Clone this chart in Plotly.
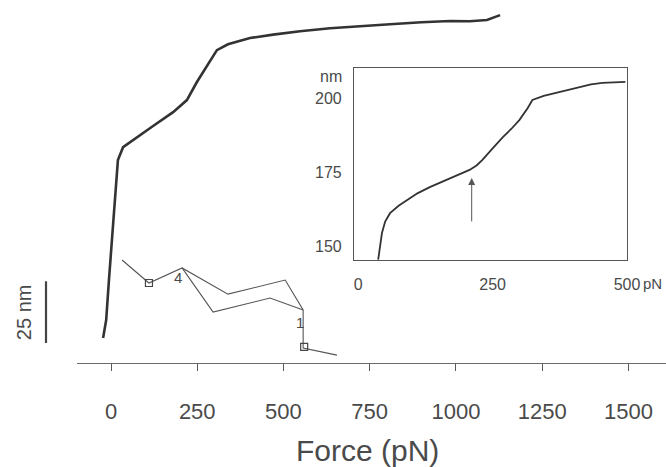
import plotly.graph_objects as go

# ---------------- data ----------------
# main extension curve (force pN, extension nm, arbitrary offset)
main_force = [-23, -14, -6, 3, 12, 20, 35, 75, 122, 180, 220, 249, 287, 307, 339, 403,
              470, 548, 635, 720, 809, 900, 983, 1040, 1090, 1128]
main_ext = [10.1, 17.4, 33.6, 49.8, 66.0, 82.2, 87.4, 91.5, 96.0, 101.6, 106.5, 113.8,
            121.9, 126.7, 129.1, 131.6, 133.0, 134.4, 135.6, 136.5, 137.2, 138.0, 138.5,
            138.4, 138.9, 140.9]

# small two-branch polyline drawn inside the main panel
poly_upper_x = [32, 110, 206, 339, 505, 557, 557, 655]
poly_upper_y = [41.7, 32.4, 38.5, 27.9, 33.6, 21.5, 6.1, 3.2]
poly_lower_x = [206, 296, 461, 557]
poly_lower_y = [38.5, 20.6, 26.3, 21.5]
poly_marker_x = [110, 560]
poly_marker_y = [32.4, 6.5]
poly_labels = ["4", "1"]
poly_label_x = [195, 548]
poly_label_y = [34.5, 16.5]

# inset curve
inset_force = [37, 40, 44, 50, 59, 75, 91, 110, 133, 150, 165, 180, 194, 207, 220, 231,
               250, 269, 285, 300, 315, 324, 345, 369, 390, 411, 433, 454, 475, 497]
inset_ext = [145.4, 150.0, 154.4, 158.3, 161.1, 163.6, 165.5, 167.8, 169.9, 171.2, 172.3,
             173.6, 174.7, 175.7, 177.2, 179.1, 183.0, 186.8, 189.6, 192.6, 196.5, 199.3,
             200.7, 201.7, 202.8, 203.7, 204.6, 205.1, 205.3, 205.4]

main_ticks = [0, 250, 500, 750, 1000, 1250, 1500]
inset_xticks = [0, 250, 500]
inset_yticks = [150, 175, 200]

arrow_force = 211
arrow_from = 157.8
arrow_to = 173.0

scale_bar_nm = 25
scale_bar_base = 8.1

# ---------------- figure ----------------
W, H = 666, 467
ML, MR, MT, MB = 77, 0, 5, 104
MAIN_X = [-98.6, 1609]
MAIN_Y = [0, 145]
INSET_X = [-8, 500]
INSET_Y = [145.3, 210.1]

FONT = "Liberation Sans, Arial, sans-serif"
TXT = "#4a4a4a"

fig = go.Figure()

fig.add_trace(go.Scatter(x=main_force, y=main_ext, mode="lines",
                         line=dict(color="#333333", width=2.6), showlegend=False,
                         xaxis="x", yaxis="y"))
fig.add_trace(go.Scatter(x=poly_upper_x, y=poly_upper_y, mode="lines",
                         line=dict(color="#555555", width=1.1), showlegend=False))
fig.add_trace(go.Scatter(x=poly_lower_x, y=poly_lower_y, mode="lines",
                         line=dict(color="#555555", width=1.1), showlegend=False))
fig.add_trace(go.Scatter(x=poly_marker_x, y=poly_marker_y, mode="markers",
                         marker=dict(symbol="square-open", size=7, color="#444444",
                                     line=dict(width=1.2)), showlegend=False))
fig.add_trace(go.Scatter(x=inset_force, y=inset_ext, mode="lines",
                         line=dict(color="#333333", width=1.8), showlegend=False,
                         xaxis="x2", yaxis="y2"))

plot_w = W - ML - MR
plot_h = H - MT - MB
ix0 = (354 - ML) / plot_w
ix1 = (627 - ML) / plot_w
iy0 = (H - MB - 260) / plot_h
iy1 = (H - MB - 68) / plot_h

fig.update_layout(
    width=W, height=H, autosize=False,
    margin=dict(l=ML, r=MR, t=MT, b=MB, pad=0, autoexpand=False),
    paper_bgcolor="white", plot_bgcolor="white",
    font=dict(family=FONT, color=TXT),
    showlegend=False,
    xaxis=dict(range=MAIN_X, domain=[0, 1], showgrid=False, zeroline=False,
               automargin=False,
               showline=True, linecolor="#6a6a6a", linewidth=1.2,
               ticks="outside", ticklen=7, tickcolor="#5a5a5a", tickwidth=1,
               tickvals=main_ticks, ticktext=[str(t) for t in main_ticks],
               tickfont=dict(size=22, color=TXT), ticklabelstandoff=21),
    yaxis=dict(range=MAIN_Y, domain=[0, 1], visible=False, automargin=False),
    xaxis2=dict(range=INSET_X, domain=[ix0, ix1], anchor="y2", showgrid=False,
                automargin=False,
                zeroline=False, showline=True, mirror=True, linecolor="#555555",
                linewidth=1.2, ticks="", tickvals=inset_xticks,
                ticktext=[str(t) for t in inset_xticks],
                tickfont=dict(size=16, color=TXT), ticklabelstandoff=10),
    yaxis2=dict(range=INSET_Y, domain=[iy0, iy1], anchor="x2", showgrid=False,
                automargin=False,
                zeroline=False, showline=True, mirror=True, linecolor="#555555",
                linewidth=1.2, ticks="", tickvals=inset_yticks,
                ticktext=[str(t) for t in inset_yticks],
                tickfont=dict(size=16, color=TXT), ticklabelstandoff=8),
)

# inset arrow
fig.add_annotation(x=arrow_force, y=arrow_to, ax=arrow_force, ay=arrow_from,
                   xref="x2", yref="y2", axref="x2", ayref="y2", text="",
                   showarrow=True, arrowhead=2, arrowsize=1.4, arrowwidth=1,
                   arrowcolor="#555555")
# inset unit labels
fig.add_annotation(x=-0.035, y=207.4, xref="x2 domain", yref="y2", text="nm",
                   showarrow=False, xanchor="right", yanchor="middle",
                   font=dict(size=16, color=TXT))
fig.add_annotation(x=1.05, y=-0.12, xref="x2 domain", yref="y2 domain", text="pN",
                   showarrow=False, xanchor="left", yanchor="middle",
                   font=dict(size=15, color=TXT))

# small polyline labels
for lx, ly, lt in zip(poly_label_x, poly_label_y, poly_labels):
    fig.add_annotation(x=lx, y=ly, xref="x", yref="y", text=lt, showarrow=False,
                       font=dict(size=15, color=TXT))

# axis title
fig.add_annotation(x=(367 - ML) / plot_w, y=(H - MB - 450) / plot_h, xref="paper",
                   yref="paper", text="Force (pN)", showarrow=False,
                   xanchor="center", yanchor="middle", font=dict(size=30, color=TXT))

# scale bar (25 nm in main y units)
yb0 = (scale_bar_base - MAIN_Y[0]) / (MAIN_Y[1] - MAIN_Y[0])
yb1 = (scale_bar_base + scale_bar_nm - MAIN_Y[0]) / (MAIN_Y[1] - MAIN_Y[0])
xb = (46 - ML) / plot_w
fig.add_shape(type="line", xref="paper", yref="paper", x0=xb, x1=xb, y0=yb0, y1=yb1,
              line=dict(color="#444444", width=2.2))
fig.add_annotation(x=(24 - ML) / plot_w, y=(yb0 + yb1) / 2, xref="paper", yref="paper",
                   text="25 nm", textangle=-90, showarrow=False,
                   xanchor="center", yanchor="middle", font=dict(size=20, color=TXT))

fig.write_html("out.html")
